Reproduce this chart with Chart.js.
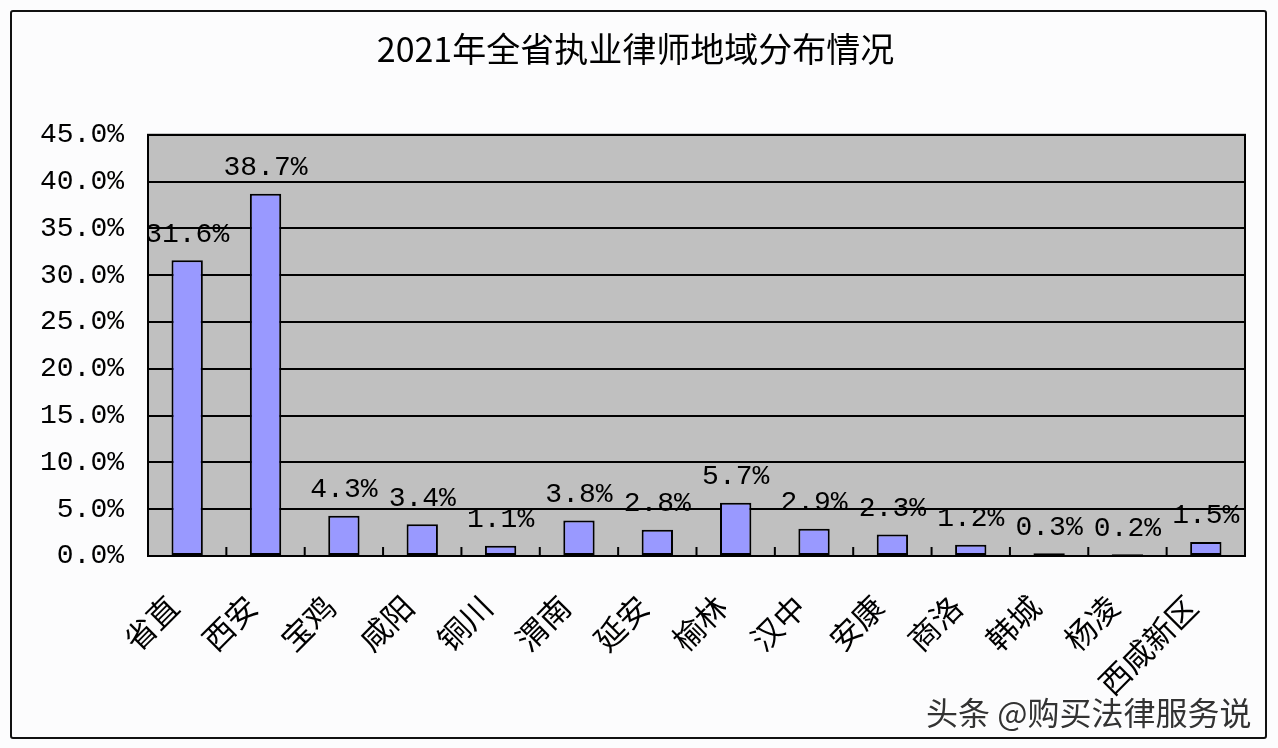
<!DOCTYPE html>
<html>
<head>
<meta charset="utf-8">
<script src="https://cdn.jsdelivr.net/npm/chart.js@4.4.1/dist/chart.umd.min.js"></script>
<style>
  html, body { margin: 0; padding: 0; background: #fcfcfd; }
  .wrap { position: relative; width: 1278px; height: 748px; overflow: hidden; }
  .frame { position: absolute; left: 10px; top: 10px; width: 1253px; height: 725px; border: 2px solid #111; border-radius: 3px; pointer-events: none; }
  canvas { position: absolute; left: 0; top: 0; }
  .mark { position: absolute; left: 926px; top: 688px; font-family: "Noto Sans CJK SC", sans-serif; font-size: 32px; color: #333; text-shadow: 0 0 3px #fff, 0 0 3px #fff; white-space: nowrap; }
</style>
</head>
<body>
<div class="wrap">
  <canvas id="chart" width="1278" height="748"></canvas>
  <div class="frame"></div>
  <div class="mark">头条 @购买法律服务说</div>
</div>
<script>
const regions = ['省直', '西安', '宝鸡', '咸阳', '铜川', '渭南', '延安', '榆林', '汉中', '安康', '商洛', '韩城', '杨凌', '西咸新区'];
const shares = [31.6, 38.7, 4.3, 3.4, 1.1, 3.8, 2.8, 5.7, 2.9, 2.3, 1.2, 0.3, 0.2, 1.5];
const yTicks = [0, 5, 10, 15, 20, 25, 30, 35, 40, 45];

const monoFont = '"Liberation Mono", "DejaVu Sans Mono", monospace';
const cjkFont = '"Noto Sans CJK SC", sans-serif';

// gray plot area, frame, inner tick marks, value labels
const plotDeco = {
    id: 'plotDeco',
    beforeDraw(chart) {
        const { ctx, chartArea: a } = chart;
        ctx.save();
        ctx.fillStyle = '#c0c0c0';
        ctx.fillRect(a.left, a.top, a.right - a.left, a.bottom - a.top);
        ctx.restore();
    },
    afterDatasetsDraw(chart) {
        const { ctx } = chart;
        const meta = chart.getDatasetMeta(0);
        ctx.save();
        ctx.font = '28px ' + monoFont;
        ctx.fillStyle = '#000';
        ctx.textAlign = 'center';
        ctx.textBaseline = 'middle';
        meta.data.forEach((bar, i) => {
            ctx.fillText(shares[i].toFixed(1) + '%', bar.x, bar.y - 26);
        });
        ctx.restore();
    },
    afterDraw(chart) {
        const { ctx, chartArea: a } = chart;
        const x = chart.scales.x;
        ctx.save();
        ctx.strokeStyle = '#000';
        ctx.lineWidth = 2;
        ctx.strokeRect(a.left, a.top, a.right - a.left, a.bottom - a.top);
        ctx.beginPath();
        for (let i = 1; i < regions.length; i++) {
            const px = (x.getPixelForTick(i - 1) + x.getPixelForTick(i)) / 2;
            ctx.moveTo(px, a.bottom);
            ctx.lineTo(px, a.bottom - 9);
        }
        ctx.stroke();
        ctx.restore();
    }
};

new Chart(document.getElementById('chart'), {
    type: 'bar',
    data: {
        labels: regions,
        datasets: [{
            data: shares,
            backgroundColor: '#9999ff',
            borderColor: '#000',
            borderWidth: 2,
            borderSkipped: false,
            categoryPercentage: 1,
            barPercentage: 0.4
        }]
    },
    options: {
        responsive: false,
        animation: false,
        layout: { padding: { left: 26, right: 33 } },
        plugins: {
            legend: { display: false },
            tooltip: { enabled: false },
            title: {
                display: true,
                text: '2021年全省执业律师地域分布情况',
                color: '#000',
                font: { family: cjkFont, size: 34, weight: 'normal' },
                padding: { top: 29, bottom: 65 }
            }
        },
        scales: {
            x: {
                grid: { display: false },
                border: { display: true, color: '#000', width: 2 },
                ticks: {
                    color: '#000',
                    font: { family: cjkFont, size: 31 },
                    minRotation: 45,
                    maxRotation: 45,
                    autoSkip: false,
                    padding: 24,
                    labelOffset: -14
                },
                afterFit(scale) { scale.height = 192; }
            },
            y: {
                min: 0,
                max: 45,
                afterBuildTicks(scale) {
                    scale.ticks = yTicks.map(v => ({ value: v }));
                },
                grid: { color: '#000', lineWidth: 2, drawTicks: false },
                border: { display: true, color: '#000', width: 2 },
                ticks: {
                    color: '#000',
                    font: { family: monoFont, size: 28 },
                    padding: 24,
                    callback: v => v.toFixed(1) + '%'
                },
                afterFit(scale) { scale.width = 122; }
            }
        }
    },
    plugins: [plotDeco]
});
</script>
</body>
</html>
